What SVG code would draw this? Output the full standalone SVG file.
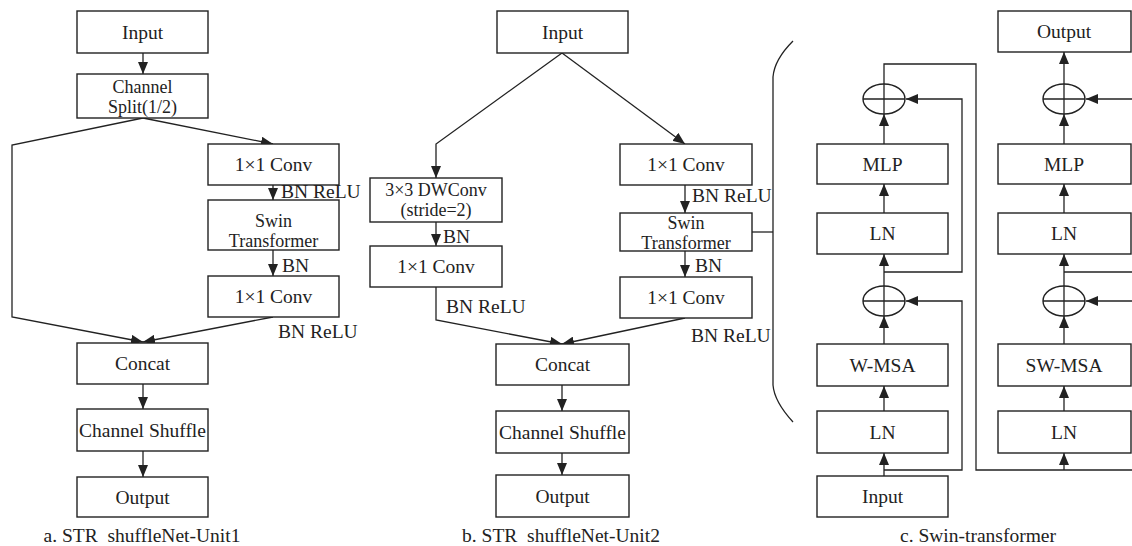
<svg xmlns="http://www.w3.org/2000/svg" width="1132" height="546" viewBox="0 0 1132 546">
<style>
.b{fill:#fff;stroke:#222;stroke-width:1.4}
.t{font-family:"Liberation Serif","Times New Roman",serif;font-size:19.5px;fill:#222;text-anchor:middle}
.t2{font-family:"Liberation Serif","Times New Roman",serif;font-size:18px;fill:#222;text-anchor:middle}
.l{font-family:"Liberation Serif","Times New Roman",serif;font-size:19.5px;fill:#222}
.c{fill:none;stroke:#222;stroke-width:1.3}
.a{fill:none;stroke:#222;stroke-width:1.3;marker-end:url(#ah)}
</style>
<defs>
<marker id="ah" markerWidth="12" markerHeight="10" refX="12" refY="5" orient="auto" markerUnits="userSpaceOnUse" viewBox="0 0 12 10"><path d="M0,0 L12,5 L0,10 z" fill="#222"/></marker>
</defs>
<rect width="1132" height="546" fill="#fff"/>
<g id="connectors">
<line class="a" x1="143" y1="53" x2="143" y2="74"/>
<polyline class="a" points="143,118 12,145 12,317 143,342"/>
<line class="a" x1="143" y1="118" x2="273" y2="144"/>
<line class="a" x1="273" y1="185" x2="273" y2="200"/>
<line class="a" x1="273" y1="250" x2="273" y2="276"/>
<line class="a" x1="273" y1="317" x2="143" y2="342"/>
<line class="a" x1="143" y1="384" x2="143" y2="409"/>
<line class="a" x1="143" y1="451" x2="143" y2="477"/>
<polyline class="a" points="562,53 436,144 436,178"/>
<line class="a" x1="562" y1="53" x2="685" y2="144"/>
<line class="a" x1="436" y1="222" x2="436" y2="246"/>
<polyline class="a" points="436,287 436,320 562,344"/>
<line class="a" x1="685" y1="185" x2="685" y2="213"/>
<line class="a" x1="685" y1="251" x2="685" y2="277"/>
<line class="a" x1="685" y1="318" x2="562" y2="344"/>
<line class="a" x1="562" y1="385" x2="562" y2="411"/>
<line class="a" x1="562" y1="453" x2="562" y2="475"/>
<line class="c" x1="752" y1="232" x2="773" y2="232"/>
<path class="c" d="M793,41 C782,52 774,64 773,77 L773,385 C774,398 782,410 793,422"/>
<line class="a" x1="884" y1="476" x2="884" y2="453"/>
<polyline class="a" points="884,470 962,470 962,301 906,301"/>
<line class="a" x1="884" y1="411" x2="884" y2="386"/>
<line class="a" x1="884" y1="344" x2="884" y2="316"/>
<line class="a" x1="884" y1="286" x2="884" y2="254"/>
<polyline class="a" points="884,272 962,272 962,99 906,99"/>
<line class="a" x1="884" y1="213" x2="884" y2="184"/>
<line class="a" x1="884" y1="144" x2="884" y2="114"/>
<polyline class="c" points="884,84 884,64 976,64 976,470 1132,470"/>
<line class="a" x1="1064" y1="470" x2="1064" y2="453"/>
<line class="a" x1="1064" y1="411" x2="1064" y2="386"/>
<line class="a" x1="1064" y1="344" x2="1064" y2="316"/>
<line class="a" x1="1132" y1="301" x2="1086" y2="301"/>
<line class="a" x1="1064" y1="286" x2="1064" y2="254"/>
<line class="c" x1="1064" y1="272" x2="1132" y2="272"/>
<line class="a" x1="1064" y1="213" x2="1064" y2="184"/>
<line class="a" x1="1064" y1="144" x2="1064" y2="114"/>
<line class="a" x1="1132" y1="99" x2="1086" y2="99"/>
<line class="a" x1="1064" y1="84" x2="1064" y2="52"/>
</g>
<g id="labels">
<text class="l" x="281" y="198">BN ReLU</text>
<text class="l" x="282" y="272">BN</text>
<text class="l" x="278" y="338">BN ReLU</text>
<text class="l" x="443" y="243">BN</text>
<text class="l" x="446" y="313">BN ReLU</text>
<text class="l" x="692" y="202">BN ReLU</text>
<text class="l" x="695" y="272">BN</text>
<text class="l" x="691" y="342">BN ReLU</text>
<text class="t" x="142" y="542">a. STR&#160; shuffleNet-Unit1</text>
<text class="t" x="561" y="542">b. STR&#160; shuffleNet-Unit2</text>
<text class="t" x="978" y="542">c. Swin-transformer</text>
</g>
<g id="a-input"><rect class="b" x="77" y="11" width="131" height="42"/><text class="t" x="142.5" y="39">Input</text></g>
<g id="a-split"><rect class="b" x="77" y="74" width="131" height="44"/><text class="t2"><tspan x="142.5" y="93">Channel</tspan><tspan x="142.5" y="113">Split(1/2)</tspan></text></g>
<g id="a-conv1"><rect class="b" x="208" y="144" width="131" height="41"/><text class="t" x="273.5" y="171">1×1 Conv</text></g>
<g id="a-swin"><rect class="b" x="208" y="200" width="131" height="50"/><text class="t2"><tspan x="273.5" y="227">Swin</tspan><tspan x="273.5" y="247">Transformer</tspan></text></g>
<g id="a-conv2"><rect class="b" x="208" y="276" width="131" height="41"/><text class="t" x="273.5" y="303">1×1 Conv</text></g>
<g id="a-concat"><rect class="b" x="77" y="343" width="131" height="41"/><text class="t" x="142.5" y="370">Concat</text></g>
<g id="a-shuffle"><rect class="b" x="77" y="409" width="131" height="42"/><text class="t" x="142.5" y="437">Channel Shuffle</text></g>
<g id="a-output"><rect class="b" x="77" y="477" width="131" height="40"/><text class="t" x="142.5" y="504">Output</text></g>
<g id="b-input"><rect class="b" x="497" y="11" width="131" height="42"/><text class="t" x="562.5" y="39">Input</text></g>
<g id="b-dwconv"><rect class="b" x="370" y="178" width="132" height="44"/><text class="t2"><tspan x="436" y="196">3×3 DWConv</tspan><tspan x="436" y="216">(stride=2)</tspan></text></g>
<g id="b-conv-left"><rect class="b" x="370" y="246" width="132" height="41"/><text class="t" x="436" y="273">1×1 Conv</text></g>
<g id="b-conv1"><rect class="b" x="620" y="144" width="132" height="41"/><text class="t" x="686" y="171">1×1 Conv</text></g>
<g id="b-swin"><rect class="b" x="620" y="213" width="132" height="38"/><text class="t2"><tspan x="686" y="229">Swin</tspan><tspan x="686" y="249">Transformer</tspan></text></g>
<g id="b-conv2"><rect class="b" x="620" y="277" width="132" height="41"/><text class="t" x="686" y="304">1×1 Conv</text></g>
<g id="b-concat"><rect class="b" x="496" y="344" width="133" height="41"/><text class="t" x="562.5" y="371">Concat</text></g>
<g id="b-shuffle"><rect class="b" x="496" y="411" width="133" height="42"/><text class="t" x="562.5" y="439">Channel Shuffle</text></g>
<g id="b-output"><rect class="b" x="496" y="475" width="133" height="42"/><text class="t" x="562.5" y="503">Output</text></g>
<g id="c1-input"><rect class="b" x="817" y="476" width="131" height="41"/><text class="t" x="882.5" y="503">Input</text></g>
<g id="c1-ln1"><rect class="b" x="817" y="411" width="131" height="42"/><text class="t" x="882.5" y="439">LN</text></g>
<g id="c1-wmsa"><rect class="b" x="817" y="344" width="131" height="42"/><text class="t" x="882.5" y="372">W-MSA</text></g>
<g id="c1-add1"><ellipse class="b" cx="884" cy="301" rx="21" ry="15"/><path class="c" d="M863,301 H905 M884,286 V316"/></g>
<g id="c1-ln2"><rect class="b" x="817" y="213" width="131" height="41"/><text class="t" x="882.5" y="240">LN</text></g>
<g id="c1-mlp"><rect class="b" x="817" y="144" width="131" height="40"/><text class="t" x="882.5" y="171">MLP</text></g>
<g id="c1-add2"><ellipse class="b" cx="884" cy="99" rx="21" ry="15"/><path class="c" d="M863,99 H905 M884,84 V114"/></g>
<g id="c2-ln1"><rect class="b" x="998" y="411" width="133" height="42"/><text class="t" x="1064" y="439">LN</text></g>
<g id="c2-swmsa"><rect class="b" x="998" y="344" width="133" height="42"/><text class="t" x="1064" y="372">SW-MSA</text></g>
<g id="c2-add1"><ellipse class="b" cx="1064" cy="301" rx="21" ry="15"/><path class="c" d="M1043,301 H1085 M1064,286 V316"/></g>
<g id="c2-ln2"><rect class="b" x="998" y="213" width="133" height="41"/><text class="t" x="1064" y="240">LN</text></g>
<g id="c2-mlp"><rect class="b" x="998" y="144" width="133" height="40"/><text class="t" x="1064" y="171">MLP</text></g>
<g id="c2-add2"><ellipse class="b" cx="1064" cy="99" rx="21" ry="15"/><path class="c" d="M1043,99 H1085 M1064,84 V114"/></g>
<g id="c2-output"><rect class="b" x="998" y="11" width="133" height="41"/><text class="t" x="1064" y="38">Output</text></g>
</svg>
